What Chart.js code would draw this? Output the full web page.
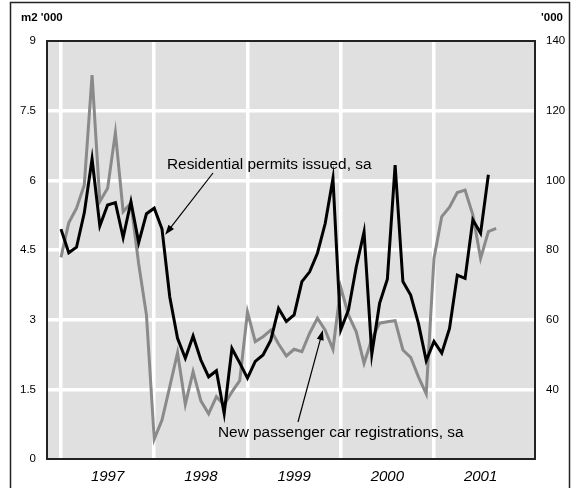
<!DOCTYPE html>
<html>
<head>
<meta charset="utf-8">
<style>
  body { margin: 0; background: #fff; }
  canvas { display: block; }
</style>
<script src="https://cdn.jsdelivr.net/npm/chart.js@4/dist/chart.umd.min.js"></script>
</head>
<body>
<canvas id="permits" width="576" height="488"></canvas>
<script>
(function() {

  "use strict";

  // months counted from Jan 1997
  var years = ['1997', '1998', '1999', '2000', '2001'];

  // residential permits issued, sa (m2 '000, left axis)
  var permits = [
    4.95, 4.44, 4.56, 5.30, 6.46, 5.02, 5.47, 5.52, 4.77, 5.54, 4.66, 5.28,
    5.40, 4.95, 3.49, 2.60, 2.17, 2.65, 2.13, 1.77, 1.90, 0.98, 2.38, 2.07,
    1.74, 2.10, 2.24, 2.56, 3.24, 2.96, 3.10, 3.82, 4.03, 4.43, 5.07, 6.04,
    2.78, 3.21, 4.14, 4.89, 2.26, 3.35, 3.87, 6.33, 3.82, 3.53, 2.92, 2.12,
    2.53, 2.28, 2.81, 3.96, 3.89, 5.15, 4.86, 6.12
  ];

  // new passenger car registrations, sa ('000, right axis)
  var cars = [
    77.9, 87.8, 92.0, 98.7, 130.2, 93.9, 97.7, 113.7, 91.0, 93.5, 76.0, 61.3,
    25.7, 31.2, 40.8, 50.5, 35.7, 45.1, 36.7, 33.0, 37.9, 35.5, 39.3, 42.5,
    62.2, 53.7, 55.1, 57.0, 53.0, 49.6, 51.5, 50.8, 56.1, 60.4, 57.0, 51.5,
    69.3, 61.3, 56.5, 47.5, 54.4, 59.0, 59.4, 59.7, 51.3, 49.2, 43.6, 38.7,
    77.6, 89.6, 92.3, 96.5, 97.2, 90.1, 77.6, 85.3, 86.2
  ];

  var leftTicks = [0, 1.5, 3, 4.5, 6, 7.5, 9];
  var rightTicks = [20, 40, 60, 80, 100, 120, 140];

  var font = "'Liberation Sans', Arial, sans-serif";

  var toPoints = function(arr) {
    return arr.map(function(v, i) { return { x: i, y: v }; });
  };

  var arrow = function(ctx, x1, y1, x2, y2) {
    var a = Math.atan2(y2 - y1, x2 - x1);
    ctx.beginPath();
    ctx.moveTo(x1, y1);
    ctx.lineTo(x2 - 8 * Math.cos(a), y2 - 8 * Math.sin(a));
    ctx.lineWidth = 1.2;
    ctx.stroke();
    ctx.beginPath();
    ctx.moveTo(x2, y2);
    ctx.lineTo(x2 - 10 * Math.cos(a) + 3.5 * Math.sin(a), y2 - 10 * Math.sin(a) - 3.5 * Math.cos(a));
    ctx.lineTo(x2 - 10 * Math.cos(a) - 3.5 * Math.sin(a), y2 - 10 * Math.sin(a) + 3.5 * Math.cos(a));
    ctx.closePath();
    ctx.fill();
  };

  var backdrop = {
    id: 'backdrop',
    beforeDraw: function(chart) {
      var ctx = chart.ctx, a = chart.chartArea;
      ctx.save();
      ctx.fillStyle = '#fff';
      ctx.fillRect(0, 0, chart.width, chart.height);
      ctx.fillStyle = '#e0e0e0';
      ctx.fillRect(a.left, a.top, a.right - a.left, a.bottom - a.top);
      ctx.restore();
    },
    afterDraw: function(chart) {
      var ctx = chart.ctx, a = chart.chartArea;
      var xs = chart.scales.x, yl = chart.scales.y, yr = chart.scales.y1;
      ctx.save();
      // plot frame
      ctx.strokeStyle = '#222';
      ctx.lineWidth = 2;
      ctx.strokeRect(a.left, a.top, a.right - a.left, a.bottom - a.top);
      // outer box
      ctx.lineWidth = 1.5;
      ctx.strokeRect(10.5, 2.5, 559, 500);

      // axis units
      ctx.fillStyle = '#000';
      ctx.font = "bold 11.5px " + font;
      ctx.textBaseline = 'middle';
      ctx.textAlign = 'left';
      ctx.fillText("m2 '000", 21, 18);
      ctx.textAlign = 'right';
      ctx.fillText("'000", 563, 18);

      // series labels
      ctx.font = "15.4px " + font;
      ctx.textAlign = 'left';
      ctx.fillText('Residential permits issued, sa', 167, 165);
      ctx.fillText('New passenger car registrations, sa', 218, 433);

      ctx.strokeStyle = '#000';
      ctx.fillStyle = '#000';
      arrow(ctx, 213, 173, xs.getPixelForValue(13.4), yl.getPixelForValue(4.83));
      arrow(ctx, 298, 422, xs.getPixelForValue(33.7), yr.getPixelForValue(57));
      ctx.restore();
    }
  };

  new Chart(document.getElementById('permits'), {
    type: 'line',
    data: {
      datasets: [{
        label: 'Residential permits issued, sa',
        data: toPoints(permits),
        yAxisID: 'y',
        borderColor: '#000',
        borderWidth: 3,
        pointRadius: 0,
        tension: 0
      }, {
        label: 'New passenger car registrations, sa',
        data: toPoints(cars),
        yAxisID: 'y1',
        borderColor: '#8a8a8a',
        borderWidth: 3,
        pointRadius: 0,
        tension: 0
      }]
    },
    options: {
      responsive: false,
      devicePixelRatio: 1,
      animation: false,
      layout: { padding: { top: 41, left: 0, right: 0, bottom: 0 } },
      plugins: {
        legend: false,
        tooltip: false
      },
      scales: {
        x: {
          type: 'linear',
          min: -1.8,
          max: 61,
          afterBuildTicks: function(axis) {
            var t = [];
            for (var m = 0; m <= 54; m += 6) t.push({ value: m });
            axis.ticks = t;
          },
          afterFit: function(scale) { scale.height = 29; },
          grid: {
            color: function(c) {
              return c.tick && c.tick.value % 12 === 0 ? '#fff' : 'rgba(0,0,0,0)';
            },
            lineWidth: 3.5,
            drawTicks: false
          },
          border: { display: false },
          ticks: {
            autoSkip: false,
            maxRotation: 0,
            padding: 9,
            color: '#000',
            font: { family: font, size: 15, style: 'italic' },
            callback: function(v) {
              return v % 12 === 6 ? years[(v - 6) / 12] : '';
            }
          }
        },
        y: {
          position: 'left',
          min: 0,
          max: 9,
          afterBuildTicks: function(axis) {
            axis.ticks = leftTicks.map(function(v) { return { value: v }; });
          },
          afterFit: function(scale) { scale.width = 47; },
          grid: {
            color: function(c) {
              return c.tick && c.tick.value > 0 && c.tick.value < 9 ? '#fff' : 'rgba(0,0,0,0)';
            },
            lineWidth: 3.5,
            drawTicks: false
          },
          border: { display: false },
          ticks: {
            padding: 11,
            color: '#000',
            font: { family: font, size: 11.5 }
          }
        },
        y1: {
          position: 'right',
          min: 20,
          max: 140,
          afterBuildTicks: function(axis) {
            axis.ticks = rightTicks.map(function(v) { return { value: v }; });
          },
          afterFit: function(scale) { scale.width = 41; },
          grid: { display: false, drawTicks: false },
          border: { display: false },
          ticks: {
            padding: 11,
            color: '#000',
            font: { family: font, size: 11.5 },
            callback: function(v) { return v === 20 ? '' : v; }
          }
        }
      }
    },
    plugins: [backdrop]
  });

})();
</script>
</body>
</html>
